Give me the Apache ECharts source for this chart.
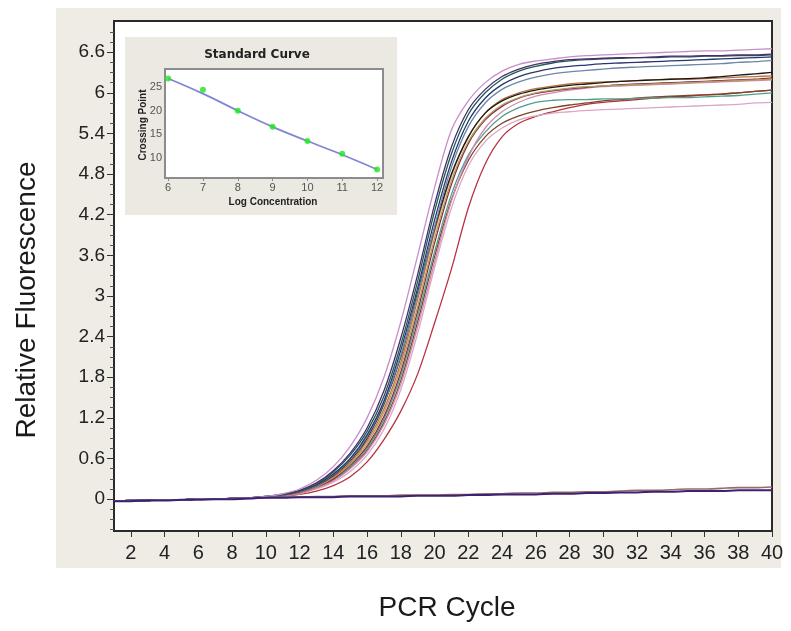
<!DOCTYPE html>
<html>
<head>
<meta charset="utf-8">
<script src="https://cdn.jsdelivr.net/npm/echarts@6/dist/echarts.min.js"></script>
<style>
html,body{margin:0;padding:0;background:#fff;}
#chart{width:791px;height:631px;}
</style>
</head>
<body>
<div id="chart"></div>
<script>
// ---- data ----
var cycles = [1,2,3,4,5,6,7,8,9,10,11,12,13,14,15,16,17,18,19,20,21,22,23,24,25,26,27,28,29,30,31,32,33,34,35,36,37,38,39,40];
var xTicks = [2,4,6,8,10,12,14,16,18,20,22,24,26,28,30,32,34,36,38,40];
var yTicks = [0,0.6,1.2,1.8,2.4,3,3.6,4.2,4.8,5.4,6,6.6];
var yMinorTicks = [-0.45,-0.3,-0.15,0.15,0.3,0.45,0.75,0.9,1.05,1.35,1.5,1.65,1.95,2.1,2.25,2.55,2.7,2.85,3.15,3.3,3.45,3.75,3.9,4.05,4.35,4.5,4.65,4.95,5.1,5.25,5.55,5.7,5.85,6.15,6.3,6.45,6.75,6.9];

var curveA = [-0.03,-0.02,-0.02,-0.01,-0.01,0,0,0.01,0.02,0.04,0.08,0.15,0.28,0.48,0.78,1.2,1.8,2.62,3.6,4.6,5.45,5.88,6.15,6.32,6.42,6.47,6.5,6.53,6.55,6.56,6.57,6.58,6.59,6.6,6.61,6.62,6.62,6.63,6.64,6.65];
var curveB = [-0.03,-0.02,-0.02,-0.01,-0.01,0,0,0.01,0.02,0.04,0.07,0.13,0.24,0.42,0.68,1.05,1.6,2.38,3.32,4.35,5.2,5.75,6.05,6.24,6.35,6.42,6.46,6.49,6.5,6.51,6.52,6.52,6.53,6.54,6.54,6.55,6.55,6.56,6.56,6.57];
var curveC = [-0.03,-0.02,-0.02,-0.01,-0.01,0,0,0.01,0.02,0.04,0.07,0.12,0.22,0.4,0.65,1.0,1.52,2.28,3.22,4.25,5.1,5.68,6.0,6.2,6.32,6.39,6.44,6.47,6.49,6.5,6.51,6.52,6.52,6.53,6.53,6.54,6.54,6.55,6.55,6.56];
var curveM = [-0.03,-0.02,-0.02,-0.01,-0.01,0,0,0.01,0.02,0.04,0.07,0.12,0.21,0.37,0.6,0.95,1.45,2.2,3.12,4.12,4.98,5.58,5.92,6.12,6.24,6.31,6.36,6.39,6.41,6.43,6.44,6.45,6.46,6.47,6.48,6.49,6.5,6.51,6.52,6.53];
var curveD = [-0.03,-0.02,-0.02,-0.01,-0.01,0,0,0.01,0.02,0.03,0.06,0.11,0.2,0.36,0.58,0.92,1.42,2.12,3.02,4.02,4.9,5.5,5.85,6.05,6.16,6.23,6.28,6.31,6.33,6.35,6.37,6.38,6.39,6.4,6.41,6.42,6.43,6.45,6.46,6.48];
var curveE = [-0.03,-0.02,-0.02,-0.01,-0.01,0,0,0.01,0.02,0.03,0.06,0.11,0.2,0.35,0.57,0.9,1.4,2.1,3.05,4.0,4.8,5.35,5.7,5.88,5.98,6.04,6.08,6.11,6.13,6.15,6.17,6.18,6.19,6.2,6.21,6.22,6.24,6.26,6.28,6.3];
var curveN = [-0.03,-0.02,-0.02,-0.01,-0.01,0,0,0.01,0.02,0.03,0.06,0.1,0.19,0.33,0.54,0.86,1.33,2.02,2.95,3.95,4.78,5.35,5.7,5.9,6.0,6.06,6.1,6.13,6.15,6.16,6.17,6.18,6.19,6.2,6.2,6.21,6.22,6.23,6.24,6.25];
var curveF = [-0.03,-0.02,-0.02,-0.01,-0.01,0,0,0.01,0.02,0.03,0.06,0.1,0.18,0.32,0.52,0.82,1.28,1.95,2.85,3.85,4.7,5.28,5.62,5.82,5.93,6.0,6.04,6.07,6.09,6.1,6.11,6.12,6.13,6.14,6.15,6.16,6.17,6.18,6.19,6.2];
var curveG = [-0.03,-0.02,-0.02,-0.01,-0.01,0,0,0.01,0.02,0.03,0.06,0.1,0.18,0.3,0.5,0.78,1.22,1.88,2.78,3.78,4.65,5.25,5.6,5.8,5.92,5.99,6.03,6.06,6.08,6.1,6.12,6.13,6.14,6.15,6.16,6.17,6.18,6.19,6.2,6.22];
var curveH = [-0.03,-0.02,-0.02,-0.01,-0.01,0,0,0.01,0.02,0.03,0.05,0.09,0.16,0.27,0.45,0.7,1.1,1.7,2.55,3.5,4.4,5.05,5.48,5.72,5.86,5.95,6.0,6.04,6.07,6.09,6.1,6.11,6.12,6.13,6.14,6.15,6.16,6.17,6.18,6.19];
var curveI = [-0.03,-0.02,-0.02,-0.01,-0.01,0,0,0.01,0.02,0.03,0.06,0.1,0.17,0.29,0.48,0.75,1.18,1.82,2.7,3.65,4.5,5.08,5.42,5.65,5.78,5.86,5.89,5.9,5.9,5.91,5.91,5.92,5.92,5.93,5.93,5.94,5.95,5.96,5.98,6.0];
var curveJ = [-0.03,-0.02,-0.02,-0.01,-0.01,0,0,0.01,0.02,0.03,0.05,0.09,0.17,0.28,0.46,0.72,1.13,1.75,2.62,3.58,4.42,5.0,5.35,5.55,5.66,5.73,5.78,5.82,5.85,5.88,5.9,5.92,5.94,5.95,5.96,5.97,5.98,6.0,6.02,6.04];
var curveK = [-0.03,-0.02,-0.02,-0.01,-0.01,0,0,0.01,0.02,0.03,0.05,0.08,0.15,0.25,0.41,0.65,1.03,1.62,2.45,3.42,4.3,4.92,5.28,5.48,5.6,5.66,5.7,5.72,5.74,5.75,5.76,5.77,5.78,5.79,5.8,5.81,5.82,5.83,5.85,5.86];
var curveL = [-0.03,-0.02,-0.02,-0.01,-0.01,0,0,0.01,0.02,0.03,0.04,0.07,0.12,0.2,0.33,0.55,0.88,1.3,1.85,2.6,3.4,4.3,4.95,5.35,5.55,5.65,5.72,5.78,5.83,5.86,5.88,5.9,5.92,5.94,5.95,5.97,5.98,6.0,6.02,6.04];
var negative1 = [-0.03,-0.03,-0.02,-0.02,-0.01,-0.01,0,0,0.01,0.02,0.02,0.03,0.03,0.03,0.04,0.04,0.04,0.04,0.05,0.05,0.05,0.06,0.06,0.07,0.07,0.07,0.08,0.08,0.09,0.09,0.1,0.1,0.11,0.11,0.12,0.12,0.12,0.13,0.13,0.13];
var negative2 = [-0.03,-0.02,-0.02,-0.01,-0.01,0,0,0.01,0.01,0.02,0.03,0.03,0.04,0.04,0.05,0.05,0.05,0.06,0.06,0.06,0.07,0.07,0.08,0.08,0.09,0.09,0.1,0.1,0.11,0.11,0.12,0.13,0.13,0.14,0.15,0.15,0.16,0.17,0.17,0.18];

var logConc = [6,7,8,9,10,11,12];
var crossingPoints = [26.8,24.4,20.0,16.6,13.6,10.9,7.6];
var fitLine = [26.8,23.6,20.0,16.6,13.6,10.7,7.6];
var insetXTicks = [6,7,8,9,10,11,12];
var insetYTicks = [10,15,20,25];

// ---- styling (not data) ----
var curves = [
  {d: curveL, c: '#b8323f', w: 1.3},
  {d: curveK, c: '#dba6c8', w: 1.3},
  {d: curveJ, c: '#7e4424', w: 1.3},
  {d: curveI, c: '#4f9e8e', w: 1.3},
  {d: curveH, c: '#d08ab0', w: 1.3},
  {d: curveG, c: '#8a2a45', w: 1.3},
  {d: curveF, c: '#b0a060', w: 1.3},
  {d: curveN, c: '#c0703a', w: 1.3},
  {d: curveE, c: '#1a1a1a', w: 1.3},
  {d: curveD, c: '#6a88a6', w: 1.3},
  {d: curveM, c: '#2b3470', w: 1.3},
  {d: curveC, c: '#1d5c50', w: 1.3},
  {d: curveB, c: '#4a2c6e', w: 1.3},
  {d: curveA, c: '#c58fc8', w: 1.3},
  {d: negative2, c: '#9a6a6a', w: 1.6},
  {d: negative1, c: '#3b2272', w: 2}
];

function pairs(xs, ys){ return xs.map(function(x,i){ return [x, ys[i]]; }); }

var series = curves.map(function(cv){
  return {
    type: 'line', xAxisIndex: 0, yAxisIndex: 0,
    data: pairs(cycles, cv.d), smooth: 0.3, showSymbol: false,
    lineStyle: {color: cv.c, width: cv.w}, z: 3, animation: false
  };
});
series.push({
  type: 'line', xAxisIndex: 1, yAxisIndex: 2,
  data: pairs(logConc, fitLine), smooth: 0.4, showSymbol: false,
  lineStyle: {color: '#7f86d4', width: 1.8}, z: 8, animation: false
});
series.push({
  type: 'scatter', xAxisIndex: 1, yAxisIndex: 2,
  data: pairs(logConc, crossingPoints), symbolSize: 6,
  itemStyle: {color: '#1ee61e'}, z: 9, animation: false
});

var chart = echarts.init(document.getElementById('chart'), null, {renderer: 'canvas'});
var mainFont = 'Liberation Sans, Arial, sans-serif';

chart.setOption({
  backgroundColor: '#ffffff',
  animation: false,
  graphic: [
    {type: 'rect', z: -100, shape: {x: 56, y: 8, width: 725, height: 560}, style: {fill: '#efebe5'}},
    {type: 'rect', z: 5, shape: {x: 125, y: 37, width: 272, height: 178}, style: {fill: '#ece8e2'}},
    {type: 'text', z: 10, x: 257, y: 55, style: {text: 'Standard Curve', font: 'bold 12px DejaVu Sans', fill: '#222', textAlign: 'center', textVerticalAlign: 'middle'}},
    {type: 'text', z: 10, x: 273, y: 202, style: {text: 'Log Concentration', font: 'bold 10px Liberation Sans', fill: '#222', textAlign: 'center', textVerticalAlign: 'middle'}},
    {type: 'text', z: 10, x: 143, y: 125, rotation: Math.PI/2, style: {text: 'Crossing Point', font: 'bold 10px Liberation Sans', fill: '#222', textAlign: 'center', textVerticalAlign: 'middle'}},
    {type: 'text', z: 10, x: 447, y: 608, style: {text: 'PCR Cycle', font: '28px Liberation Sans', fill: '#1a1a1a', textAlign: 'center', textVerticalAlign: 'middle'}},
    {type: 'text', z: 10, x: 27, y: 300, rotation: Math.PI/2, style: {text: 'Relative Fluorescence', font: '28px Liberation Sans', fill: '#1a1a1a', textAlign: 'center', textVerticalAlign: 'middle'}}
  ],
  grid: [
    {left: 114, top: 21, width: 658, height: 510, show: true, backgroundColor: '#ffffff', borderColor: '#2a2a2a', borderWidth: 2, z: 0},
    {left: 165, top: 69, width: 218, height: 109, show: true, backgroundColor: '#ffffff', borderColor: '#8c8c8c', borderWidth: 2, z: 6}
  ],
  xAxis: [
    {type: 'value', gridIndex: 0, min: 1, max: 40, position: 'bottom',
     axisLine: {show: true, onZero: false, lineStyle: {color: '#2a2a2a', width: 2}},
     axisTick: {show: true, inside: false, length: 6, customValues: xTicks, lineStyle: {color: '#333'}},
     axisLabel: {show: true, customValues: xTicks, margin: 12, fontSize: 20, fontFamily: mainFont, color: '#222'},
     splitLine: {show: false}},
    {type: 'value', gridIndex: 1, min: 5.91, max: 12.17, z: 7, position: 'bottom',
     axisLine: {show: true, onZero: false, lineStyle: {color: '#8c8c8c', width: 2}},
     axisTick: {show: true, inside: false, length: 3, customValues: insetXTicks, lineStyle: {color: '#888'}},
     axisLabel: {show: true, customValues: insetXTicks, margin: 4, fontSize: 11, fontFamily: mainFont, color: '#555'},
     splitLine: {show: false}}
  ],
  yAxis: [
    {type: 'value', gridIndex: 0, min: -0.47, max: 7.06, position: 'left',
     axisLine: {show: true, onZero: false, lineStyle: {color: '#2a2a2a', width: 2}},
     axisTick: {show: true, inside: false, length: 7, customValues: yTicks, lineStyle: {color: '#333'}},
     axisLabel: {show: true, customValues: yTicks, margin: 9, fontSize: 19, fontFamily: mainFont, color: '#222',
       formatter: function(v){ return String(Math.round(v*10)/10); }},
     splitLine: {show: false}},
    {type: 'value', gridIndex: 0, min: -0.47, max: 7.06, position: 'left', offset: 0,
     axisLine: {show: false, onZero: false},
     axisTick: {show: true, inside: false, length: 4, customValues: yMinorTicks, lineStyle: {color: '#555'}},
     axisLabel: {show: false},
     splitLine: {show: false}},
    {type: 'value', gridIndex: 1, min: 5.8, max: 28.8, z: 7, position: 'left',
     axisLine: {show: true, onZero: false, lineStyle: {color: '#8c8c8c', width: 2}},
     axisTick: {show: false, customValues: insetYTicks},
     axisLabel: {show: true, customValues: insetYTicks, margin: 3, fontSize: 11, fontFamily: mainFont, color: '#555'},
     splitLine: {show: false}}
  ],
  series: series
});
</script>
</body>
</html>
